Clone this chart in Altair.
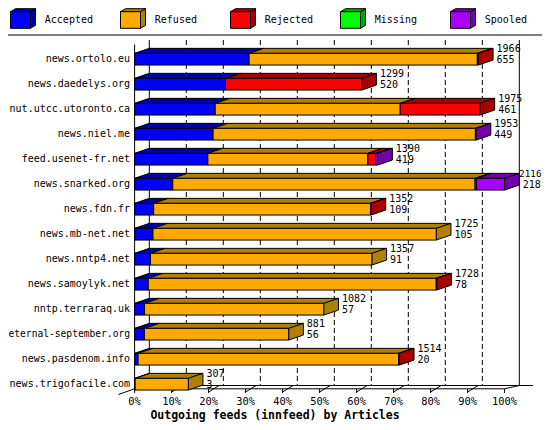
import altair as alt
import pandas as pd

# ---------------- data ----------------
feeds = ["news.ortolo.eu", "news.daedelys.org", "nut.utcc.utoronto.ca", "news.niel.me",
         "feed.usenet-fr.net", "news.snarked.org", "news.fdn.fr", "news.mb-net.net",
         "news.nntp4.net", "news.samoylyk.net", "nntp.terraraq.uk", "eternal-september.org",
         "news.pasdenom.info", "news.trigofacile.com"]
totals = [1966, 1299, 1975, 1953, 1390, 2116, 1352, 1725, 1357, 1728, 1082, 881, 1514, 307]
accepted = [655, 520, 461, 449, 419, 218, 109, 105, 91, 78, 57, 56, 20, 3]
refused = [1305, 0, 1058, 1500, 915, 1729, 1240, 1620, 1266, 1647, 1025, 825, 1490, 304]
rejected = [6, 779, 456, 0, 45, 9, 3, 0, 0, 3, 0, 0, 4, 0]
missing = [0, 0, 0, 0, 0, 0, 0, 0, 0, 0, 0, 0, 0, 0]
spooled = [0, 0, 0, 4, 11, 160, 0, 0, 0, 0, 0, 0, 0, 0]

categories = ["Accepted", "Refused", "Rejected", "Missing", "Spooled"]
front_colors = ["#0000FF", "#FFAA00", "#FF0000", "#00FF00", "#AA00FF"]
dark_colors = ["#0000AA", "#B08000", "#AA0000", "#00AA00", "#7300AA"]
tick_values = [0, 10, 20, 30, 40, 50, 60, 70, 80, 90, 100]
tick_labels = [f"{v}%" for v in tick_values]
title_text = "Outgoing feeds (innfeed) by Articles"

# ---------------- layout (page pixels) ----------------
W, H = 534, 414
PAGE = 8
X0, SX = 134.6, 3.70      # page x of 0 %, px per 1 %
Y0, SY = 59.2, 25.0       # page y of first row centre, px per row
HALF = 5.85               # half height of bar front face
DX, DY = 14.7, 5.0        # 3D depth
FLOOR_F, FLOOR_B, TOP = 388.8, 385.5, 40.0
MONO = "DejaVu Sans Mono"
ADV = 0.602               # monospace advance per em
RIGHT_EDGE, LEFT_EDGE = PAGE + W - 0.5, PAGE + 0.5


def ux(px):
    return (px - X0) / SX


def uy(py):
    return (py - Y0) / SY


DXU, DYU, HU = DX / SX, DY / SY, HALF / SY
XS = alt.Scale(domain=[ux(PAGE), ux(PAGE + W)], nice=False, zero=False)
YS = alt.Scale(domain=[uy(PAGE), uy(PAGE + H)], nice=False, zero=False, reverse=True)


def X(f):
    return alt.X(f, type="quantitative", scale=XS, axis=None)


def Y(f):
    return alt.Y(f, type="quantitative", scale=YS, axis=None)


MAXV = max(totals)
series = [accepted, refused, rejected, missing, spooled]

# ---------------- bar geometry ----------------
fronts, tops, sides = [], [], []
for i, f in enumerate(feeds):
    cum = 0
    last = None
    for k, vals in enumerate(series):
        v = vals[i]
        if v > 0:
            x0 = cum / MAXV * 100
            x1 = (cum + v) / MAXV * 100
            key = f"{i}-{k}"
            fronts.append(dict(x=x0, x2=x1, y=i - HU, y2=i + HU, fill=front_colors[k]))
            tops.append(dict(key=key, y=i - HU, x=x0, x2=x1, fill=dark_colors[k]))
            tops.append(dict(key=key, y=i - HU - DYU, x=x0 + DXU, x2=x1 + DXU, fill=dark_colors[k]))
            last = (x1, k)
        cum += v
    x1, k = last
    sides.append(dict(key=str(i), x=x1, y=i - HU, y2=i + HU, fill=dark_colors[k]))
    sides.append(dict(key=str(i), x=x1 + DXU, y=i - HU - DYU, y2=i + HU - DYU, fill=dark_colors[k]))

front_layer = alt.Chart(pd.DataFrame(fronts)).mark_rect(stroke="black", strokeWidth=1).encode(
    x=X("x"), x2="x2", y=Y("y"), y2="y2", color=alt.Color("fill:N", scale=None))
top_layer = alt.Chart(pd.DataFrame(tops)).mark_area(
    orient="horizontal", stroke="black", strokeWidth=1).encode(
    y=Y("y"), x=X("x"), x2="x2", detail="key:N", color=alt.Color("fill:N", scale=None))
side_layer = alt.Chart(pd.DataFrame(sides)).mark_area(
    orient="vertical", stroke="black", strokeWidth=1).encode(
    x=X("x"), y=Y("y"), y2="y2", detail="key:N", color=alt.Color("fill:N", scale=None))


# ---------------- frame ----------------
def seg(x, y, x2, y2):
    return dict(x=ux(x), y=uy(y), x2=ux(x2), y2=uy(y2))


grid = [seg(X0 + SX * p + DX, TOP, X0 + SX * p + DX, FLOOR_B) for p in tick_values[1:-1]]
frame = [
    seg(X0 + DX, TOP, X0 + DX, FLOOR_B),
    seg(X0 + SX * 100 + DX, TOP, X0 + SX * 100 + DX, FLOOR_B),
    seg(X0 + DX, FLOOR_B, 533, FLOOR_B),
    seg(X0, FLOOR_F, X0 + SX * 100, FLOOR_F),
    seg(118.5, 394.5, X0, FLOOR_F),
    seg(X0, FLOOR_F, X0 + DX, FLOOR_B),
    seg(X0 + SX * 100, FLOOR_F, X0 + SX * 100 + DX, FLOOR_B),
    seg(0, 35, 550, 35),
]
frame += [seg(X0 + SX * p, FLOOR_F, X0 + SX * p, FLOOR_F + 4.2) for p in tick_values]
diag = [seg(X0 + SX * p, 392, X0 + SX * p + 10.5, FLOOR_B) for p in tick_values[1:-1]]
front_axis = [seg(X0, 44.5, X0, FLOOR_F)]


def rules(rows, **kw):
    return alt.Chart(pd.DataFrame(rows)).mark_rule(color="black", strokeWidth=1, **kw).encode(
        x=X("x"), y=Y("y"), x2="x2", y2="y2")


grid_layer = rules(grid, strokeDash=[5, 3])
frame_layer = rules(frame)
diag_layer = rules(diag)
axis_layer = rules(front_axis)

# ---------------- texts ----------------
LAB_RIGHT = 130
labs = []
for i, f in enumerate(feeds):
    fs = min(10.0, (LAB_RIGHT - LEFT_EDGE) / (ADV * len(f)))
    labs.append(dict(x=ux(LAB_RIGHT), y=i - 0.6 / SY, t=f, fs=fs))
lab_layer = alt.Chart(pd.DataFrame(labs)).mark_text(
    align="right", baseline="middle", font=MONO, color="black").encode(
    x=X("x"), y=Y("y"), text="t:N", size=alt.Size("fs:Q", scale=None))

nums = []
for i in range(len(feeds)):
    end_px = X0 + SX * totals[i] / MAXV * 100
    start = end_px + DX + 3.5
    for t, dy in ((str(totals[i]), -9.8), (str(accepted[i]), 1.0)):
        fs = 10.0
        if start + ADV * fs * len(t) > RIGHT_EDGE:
            fs = 9.3
        s = min(start, RIGHT_EDGE - ADV * fs * len(t))
        nums.append(dict(x=ux(s), y=i + dy / SY, t=t, fs=fs))
num_layer = alt.Chart(pd.DataFrame(nums)).mark_text(
    align="left", baseline="middle", font=MONO, color="black").encode(
    x=X("x"), y=Y("y"), text="t:N", size=alt.Size("fs:Q", scale=None))

tick_df = pd.DataFrame(dict(x=tick_values, y=[uy(401.5)] * len(tick_values), t=tick_labels))
tick_layer = alt.Chart(tick_df).mark_text(align="center", baseline="middle", font=MONO, fontSize=10.4,
                                          color="black").encode(x=X("x"), y=Y("y"), text="t:N")

title_df = pd.DataFrame(dict(x=[ux(275)], y=[uy(415.8)], t=[title_text]))
title_layer = alt.Chart(title_df).mark_text(align="center", baseline="middle", font=MONO, fontSize=11.5,
                                            fontWeight="bold", color="black").encode(
    x=X("x"), y=Y("y"), text="t:N")

# ---------------- legend ----------------
LX, LSTEP, LW, LT, LB, LDX, LDY, LTX = 10.5, 110, 20, 11.7, 28.3, 5, 3, 44.8
lf, lt, ls, ltxt = [], [], [], []
for k, c in enumerate(categories):
    a = LX + LSTEP * k
    b = a + LW
    lf.append(dict(x=ux(a), x2=ux(b), y=uy(LT), y2=uy(LB), fill=front_colors[k]))
    lt.append(dict(key=c, y=uy(LT), x=ux(a), x2=ux(b), fill=dark_colors[k]))
    lt.append(dict(key=c, y=uy(LT - LDY), x=ux(a + LDX), x2=ux(b + LDX), fill=dark_colors[k]))
    ls.append(dict(key=c, x=ux(b), y=uy(LT), y2=uy(LB), fill=dark_colors[k]))
    ls.append(dict(key=c, x=ux(b + LDX), y=uy(LT - LDY), y2=uy(LB - LDY), fill=dark_colors[k]))
    ltxt.append(dict(x=ux(LTX + LSTEP * k), y=uy(20), t=c))

leg_front = alt.Chart(pd.DataFrame(lf)).mark_rect(stroke="black", strokeWidth=1).encode(
    x=X("x"), x2="x2", y=Y("y"), y2="y2", color=alt.Color("fill:N", scale=None))
leg_top = alt.Chart(pd.DataFrame(lt)).mark_area(orient="horizontal", stroke="black", strokeWidth=1).encode(
    y=Y("y"), x=X("x"), x2="x2", detail="key:N", color=alt.Color("fill:N", scale=None))
leg_side = alt.Chart(pd.DataFrame(ls)).mark_area(orient="vertical", stroke="black", strokeWidth=1).encode(
    x=X("x"), y=Y("y"), y2="y2", detail="key:N", color=alt.Color("fill:N", scale=None))
leg_text = alt.Chart(pd.DataFrame(ltxt)).mark_text(align="left", baseline="middle", font=MONO, fontSize=10,
                                                  color="black").encode(x=X("x"), y=Y("y"), text="t:N")

chart = alt.layer(
    grid_layer, frame_layer, diag_layer,
    top_layer, side_layer, front_layer, axis_layer,
    lab_layer, num_layer, tick_layer, title_layer,
    leg_top, leg_side, leg_front, leg_text,
).properties(
    width=W, height=H, padding=0, autosize=alt.AutoSizeParams(type="none"), background="white"
).configure_view(stroke=None)

chart.save("out.html", embed_options={"renderer": "svg", "actions": False})
